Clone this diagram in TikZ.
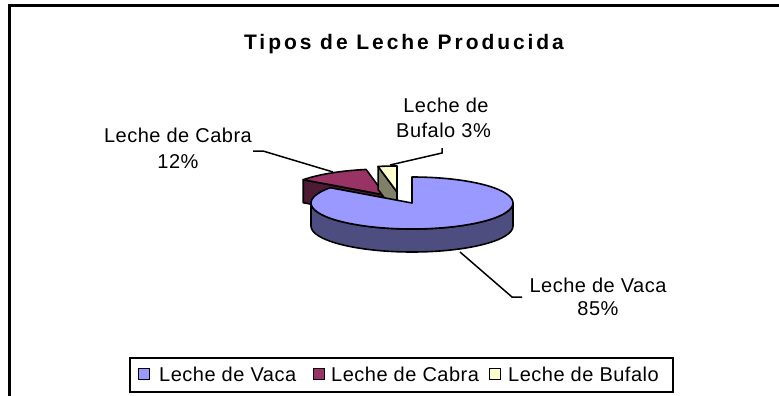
\documentclass[tikz,border=0pt]{standalone}
\usepackage{fontspec}
\usetikzlibrary{calc}
\setmainfont{Liberation Sans}
\newfontfamily\lblfont[LetterSpace=2.5]{Liberation Sans}
\newfontfamily\ttlfont[LetterSpace=14]{Liberation Sans Bold}
\definecolor{vacatop}{HTML}{9999FF}
\definecolor{vacaside}{HTML}{4D4D80}
\definecolor{cabratop}{HTML}{993366}
\definecolor{cabraside}{HTML}{4D1A33}
\definecolor{bufalotop}{HTML}{FFFFCC}
\definecolor{bufaloside}{HTML}{808066}
\tikzset{
  pieface/.style={draw=black, line width=1.6pt, line join=round},
  lbl/.style={font=\lblfont\fontsize{20}{22}\selectfont, inner sep=0pt, anchor=base},
  leader/.style={draw=black, line width=1.5pt},
  legsq/.style={draw=black, line width=1.3pt, minimum size=11pt, inner sep=0pt},
}
\begin{document}
\begin{tikzpicture}[x=1pt,y=-1pt]
\path[use as bounding box] (0,0) rectangle (779,396);
% outer frame
\draw[line width=3pt] (9,400) -- (9,6) -- (790,6);
% title
\node[inner sep=0pt, anchor=base, font=\ttlfont\fontsize{21}{23}\selectfont] (title) at (404,49) {Tipos de Leche Producida};
% Cabra slice (exploded)
\coordinate (ca) at (385,195);
\filldraw[pieface, fill=cabraside] (ca) -- ++(-144:101 and 26) -- ++(0,23) -- ($(ca)+(0,23)$) -- cycle;
\filldraw[pieface, fill=cabratop] (ca) -- ++(-144:101 and 26) arc[start angle=-144, end angle=-100.8, x radius=101, y radius=26] -- cycle;
% Bufalo slice (exploded)
\coordinate (bu) at (397,192);
\filldraw[pieface, fill=bufaloside] (bu) -- ++(-100.8:101 and 26) -- ++(0,23) -- ($(bu)+(0,23)$) -- cycle;
\filldraw[pieface, fill=bufalotop] (bu) -- ++(-100.8:101 and 26) arc[start angle=-100.8, end angle=-90, x radius=101, y radius=26] -- cycle;
% Vaca slice
\coordinate (va) at (412,203);
\filldraw[pieface, fill=vacaside] (va) ++(-180:101 and 26) arc[start angle=-180, end angle=-360, x radius=101, y radius=26] -- ++(0,23) arc[start angle=-360, end angle=-180, x radius=101, y radius=26] -- cycle;
\filldraw[pieface, fill=vacatop] (va) -- ++(-144:101 and 26) arc[start angle=-144, end angle=-450, x radius=101, y radius=26] -- cycle;
% labels
\node[lbl] (cabra1) at (178,142.7) {Leche de Cabra};
\node[lbl] (cabra2) at (178,168.5) {12\%};
\node[lbl] (bufalo1) at (446,112) {Leche de};
\node[lbl] (bufalo2) at (443.5,137) {Bufalo 3\%};
\node[lbl] (vaca1) at (598,292.7) {Leche de Vaca};
\node[lbl] (vaca2) at (598,315) {85\%};
% leader lines
\coordinate (cabraL) at (253,151);
\coordinate (cabraE) at (333,172);
\draw[leader] (cabraL) -- ++(10,0) -- (cabraE);
\coordinate (bufaloL) at (442,148);
\coordinate (bufaloE) at (390,165);
\draw[leader] (bufaloL) -- ++(0,5) -- (bufaloE);
\coordinate (vacaE) at (460,252);
\coordinate (vacaL) at (522,297);
\draw[leader] (vacaE) -- (512,297) -- (vacaL);
% legend
\node[draw=black, line width=1.6pt, minimum width=543pt, minimum height=34pt, inner sep=0pt, anchor=north west] (legend) at (129,357) {};
\node[legsq, fill=vacatop] (sq1) at (144,374) {};
\node[lbl, anchor=base west] (leg1) at (159,381) {Leche de Vaca};
\node[legsq, fill=cabratop] (sq2) at (319,374) {};
\node[lbl, anchor=base west] (leg2) at (331,381) {Leche de Cabra};
\node[legsq, fill=bufalotop] (sq3) at (495,374) {};
\node[lbl, anchor=base west] (leg3) at (508,381) {Leche de Bufalo};
\end{tikzpicture}
\end{document}
